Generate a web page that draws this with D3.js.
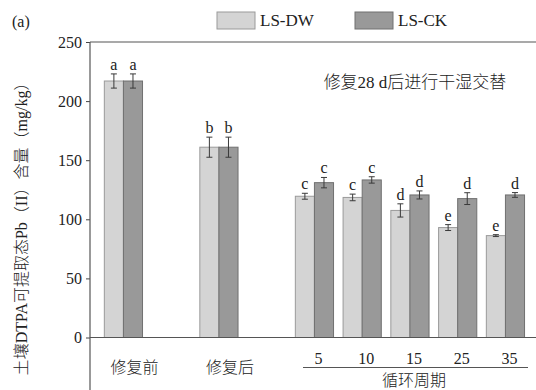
<!DOCTYPE html>
<html>
<head>
<meta charset="utf-8">
<script src="https://cdn.jsdelivr.net/npm/d3@7"></script>
<style>
  html, body { margin: 0; padding: 0; background: #fff; }
  svg { display: block; }
  text { font-family: "Liberation Serif", "Noto Sans CJK SC", serif; fill: #222; font-weight: 300; }
</style>
</head>
<body>
<svg id="chart" width="536" height="390"></svg>
<script>
// Group labels, slot positions along the x axis (gaps between stages)
const groups = ["修复前", "修复后", "5", "10", "15", "25", "35"];
const slots = [0, 2, 4, 5, 6, 7, 8];
const seriesNames = ["LS-DW", "LS-CK"];
// DTPA-extractable Pb (mg/kg): means, error half-widths, significance letters
const dwMean = [217, 161, 119.5, 118.5, 107.5, 93, 86.2];
const dwErr  = [6, 8.5, 2.5, 2.8, 5.6, 2.5, 0.8];
const dwSig  = ["a", "b", "c", "c", "d", "e", "e"];
const ckMean = [217, 161, 131, 133.3, 120.6, 117.5, 120.6];
const ckErr  = [6, 8.5, 4.4, 2.7, 3.4, 5, 2];
const ckSig  = ["a", "b", "c", "c", "d", "d", "d"];
const yTicks = [0, 50, 100, 150, 200, 250];

const colors = { "LS-DW": "#d4d4d4", "LS-CK": "#999999" };
const strokes = { "LS-DW": "#9a9a9a", "LS-CK": "#707070" };

const svg = d3.select("#chart");
const x = d3.scaleLinear().domain([-0.7, 8.64]).range([90, 536]);
const y = d3.scaleLinear().domain([0, 250]).range([337.5, 42]);
const barW = x(0.4) - x(0);

const series = [
  { name: "LS-DW", mean: dwMean, err: dwErr, sig: dwSig, off: -barW },
  { name: "LS-CK", mean: ckMean, err: ckErr, sig: ckSig, off: 0 }
];

// bars
series.forEach(s => {
  const g = svg.append("g");
  g.selectAll("rect").data(groups).join("rect")
    .attr("x", (d, i) => x(slots[i]) + s.off)
    .attr("y", (d, i) => y(s.mean[i]))
    .attr("width", barW)
    .attr("height", (d, i) => y(0) - y(s.mean[i]))
    .attr("fill", colors[s.name])
    .attr("stroke", strokes[s.name])
    .attr("stroke-width", 1);
});

// error bars and letters
series.forEach(s => {
  const g = svg.append("g").attr("stroke", "#3a3a3a").attr("stroke-width", 1);
  groups.forEach((d, i) => {
    const cx = x(slots[i]) + s.off + barW / 2;
    const top = y(s.mean[i] + s.err[i]), bot = y(s.mean[i] - s.err[i]);
    g.append("line").attr("x1", cx).attr("x2", cx).attr("y1", top).attr("y2", bot);
    g.append("line").attr("x1", cx - 3).attr("x2", cx + 3).attr("y1", top).attr("y2", top);
    g.append("line").attr("x1", cx - 3).attr("x2", cx + 3).attr("y1", bot).attr("y2", bot);
    svg.append("text")
      .attr("x", cx).attr("y", top - 4)
      .attr("text-anchor", "middle")
      .attr("font-size", 16)
      .text(s.sig[i]);
  });
});

// y axis
const yAxis = d3.axisLeft(y).tickValues(yTicks).tickSize(4).tickPadding(4).tickFormat(d3.format("d"));
const ya = svg.append("g").attr("transform", "translate(90,0)").call(yAxis);
ya.select(".domain").remove();
ya.selectAll(".tick line").attr("stroke", "#444");
ya.selectAll(".tick text").attr("font-size", 16).attr("font-family", "Liberation Serif").attr("fill", "#222");

// frame lines: left axis running to the bottom, top border, baseline
svg.append("line").attr("x1", 90).attr("x2", 90).attr("y1", 42).attr("y2", 390).attr("stroke", "#555").attr("stroke-width", 1.2);
svg.append("line").attr("x1", 90).attr("x2", 536).attr("y1", 42).attr("y2", 42).attr("stroke", "#555").attr("stroke-width", 1.2);
svg.append("line").attr("x1", 90).attr("x2", 536).attr("y1", y(0)).attr("y2", y(0)).attr("stroke", "#555").attr("stroke-width", 1.2);

// category labels
groups.forEach((d, i) => {
  const isCycle = i >= 2;
  svg.append("text")
    .attr("x", x(slots[i]) + (isCycle ? 4 : 11))
    .attr("y", isCycle ? 364 : 373)
    .attr("text-anchor", "middle")
    .attr("font-size", 16)
    .text(d);
});
svg.append("line").attr("x1", 303).attr("x2", 528).attr("y1", 367.5).attr("y2", 367.5).attr("stroke", "#555").attr("stroke-width", 1);
svg.append("text").attr("x", 414).attr("y", 386).attr("text-anchor", "middle").attr("font-size", 16).text("循环周期");

// annotation
svg.append("text").attr("x", 415).attr("y", 88).attr("text-anchor", "middle").attr("font-size", 17).text("修复28 d后进行干湿交替");

// y axis title
svg.append("text")
  .attr("transform", "translate(27,225) rotate(-90)")
  .attr("text-anchor", "middle")
  .attr("font-size", 16)
  .text("土壤DTPA可提取态Pb（II）含量（mg/kg）");

// panel tag
svg.append("text").attr("x", 12).attr("y", 27).attr("font-size", 16).text("(a)");

// legend
const lg = svg.append("g");
seriesNames.forEach((n, i) => {
  const lx = 217 + i * 138;
  lg.append("rect").attr("x", lx).attr("y", 12).attr("width", 38).attr("height", 17)
    .attr("fill", colors[n]).attr("stroke", strokes[n]);
  lg.append("text").attr("x", lx + 43).attr("y", 26).attr("font-size", 17).text(n);
});
</script>
</body>
</html>
